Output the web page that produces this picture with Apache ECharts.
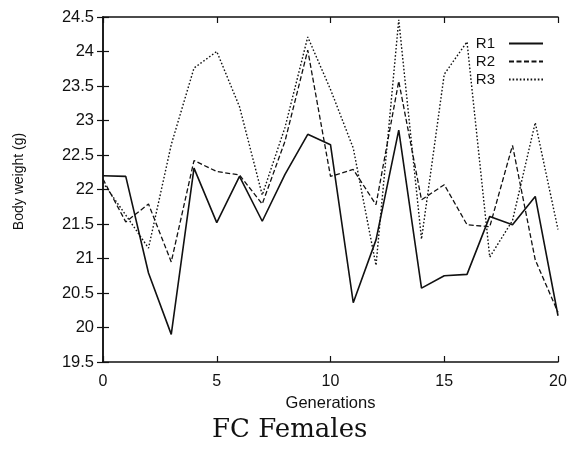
<!DOCTYPE html>
<html>
<head>
<meta charset="utf-8">
<script src="https://cdn.jsdelivr.net/npm/echarts@6/dist/echarts.min.js"></script>
<style>
  html, body { margin: 0; padding: 0; background: #fff; }
  #chart { width: 582px; height: 451px; }
</style>
</head>
<body>
<div id="chart"></div>
<script>
const generations = [0,1,2,3,4,5,6,7,8,9,10,11,12,13,14,15,16,17,18,19,20];
const r1 = [22.2, 22.19, 20.79, 19.9, 22.31, 21.52, 22.19, 21.54, 22.22, 22.8, 22.65, 20.36, 21.27, 22.86, 20.57, 20.75, 20.77, 21.61, 21.49, 21.9, 20.17];
const r2 = [22.15, 21.53, 21.79, 20.95, 22.42, 22.26, 22.21, 21.79, 22.7, 24.02, 22.19, 22.29, 21.78, 23.57, 21.85, 22.07, 21.49, 21.46, 22.64, 20.98, 20.22];
const r3 = [22.1, 21.63, 21.15, 22.65, 23.76, 24.0, 23.2, 21.92, 22.9, 24.21, 23.45, 22.6, 20.9, 24.46, 21.28, 23.67, 24.14, 21.02, 21.55, 22.97, 21.42];
const seriesNames = ['R1', 'R2', 'R3'];
const xTitle = 'Generations';
const yTitle = 'Body weight (g)';
const chartTitle = 'FC Females';

const pairs = arr => generations.map((g, i) => [g, arr[i]]);
const sans = 'Liberation Sans';
const ink = '#111';

const axisBase = {
  axisLine: { show: true, lineStyle: { color: ink, width: 1.5 } },
  axisTick: { show: true, inside: true, length: 6, lineStyle: { color: ink, width: 1.2 } },
  splitLine: { show: false }
};

const chart = echarts.init(document.getElementById('chart'), null, { renderer: 'canvas' });
chart.setOption({
  animation: false,
  backgroundColor: '#fff',
  title: {
    text: chartTitle,
    left: 207, top: 412,
    textStyle: { fontFamily: 'DejaVu Serif', fontSize: 26, fontWeight: 'normal', color: ink }
  },
  legend: {
    orient: 'vertical',
    right: 33, top: 31,
    align: 'right',
    itemWidth: 34, itemHeight: 14, itemGap: 3,
    itemStyle: { opacity: 0 },
    textStyle: { fontFamily: sans, fontSize: 15, color: ink, padding: [0, 9, 0, 0] },
    data: seriesNames
  },
  grid: { left: 103, right: 24, top: 17, bottom: 89 },
  xAxis: [
    Object.assign({}, axisBase, {
      type: 'value', min: 0, max: 20, interval: 5, position: 'bottom',
      name: xTitle, nameLocation: 'middle', nameGap: 27,
      nameTextStyle: { fontFamily: sans, fontSize: 16.5, color: ink },
      axisLabel: { fontFamily: sans, fontSize: 16, color: ink, margin: 12 }
    }),
    Object.assign({}, axisBase, {
      type: 'value', min: 0, max: 20, interval: 5, position: 'top',
      axisLabel: { show: false }
    })
  ],
  yAxis: [
    Object.assign({}, axisBase, {
      type: 'value', min: 19.5, max: 24.5, interval: 0.5, position: 'left',
      name: yTitle, nameLocation: 'middle', nameGap: 77, nameRotate: 90,
      nameTextStyle: { fontFamily: sans, fontSize: 14, color: ink, padding: [0, 0, 0, 16] },
      axisLabel: { fontFamily: sans, fontSize: 16.5, color: ink, margin: 9 }
    }),
    Object.assign({}, axisBase, {
      type: 'value', min: 19.5, max: 24.5, interval: 0.5, position: 'right',
      axisLabel: { show: false }
    })
  ],
  series: [
    { name: seriesNames[0], type: 'line', data: pairs(r1), symbol: 'none',
      lineStyle: { color: ink, width: 1.6, type: 'solid' }, itemStyle: { color: ink } },
    { name: seriesNames[1], type: 'line', data: pairs(r2), symbol: 'none',
      lineStyle: { color: ink, width: 1.3, type: [5, 2.5] }, itemStyle: { color: ink } },
    { name: seriesNames[2], type: 'line', data: pairs(r3), symbol: 'none',
      lineStyle: { color: ink, width: 1.4, type: [1.6, 2] }, itemStyle: { color: ink } }
  ]
});
</script>
</body>
</html>
